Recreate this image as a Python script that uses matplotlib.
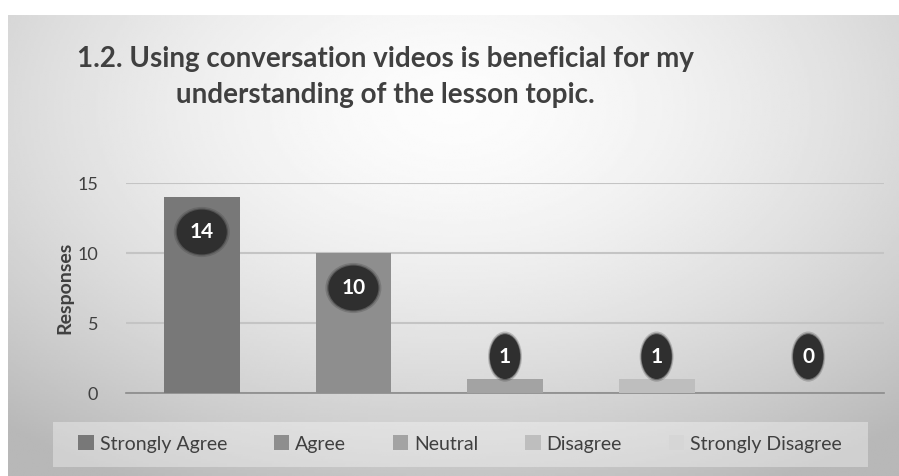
import numpy as np
import matplotlib.pyplot as plt
from matplotlib.patches import Rectangle, Patch, Ellipse

categories = ["Strongly Agree", "Agree", "Neutral", "Disagree", "Strongly Disagree"]
responses = [14, 10, 1, 1, 0]
bar_colors = ["#787878", "#8e8e8e", "#a3a3a3", "#bebebe", "#d6d6d6"]
yticks = [0, 5, 10, 15]
title = "1.2. Using conversation videos is beneficial for my\nunderstanding of the lesson topic."

W, H = 899, 476
FONT = "Lato"
fig = plt.figure(figsize=(W / 100, H / 100), dpi=100)
fig.patch.set_facecolor("white")

# gradient background of the chart area
bg = fig.add_axes([8 / W, 0, 1 - 8 / W, 1 - 15 / H])
yy, xx = np.mgrid[0:1:200j, 0:1:400j]
d = np.sqrt(((xx - 0.5) / 0.75) ** 2 + ((yy - 0.2) / 0.9) ** 2)
shade = np.clip(0.99 - 0.26 * d ** 1.6, 0.72, 1.0)
bg.imshow(shade, cmap="gray", vmin=0, vmax=1, aspect="auto", extent=[0, 1, 1, 0])
bg.set_axis_off()

# legend panel
fig.patches.append(Rectangle((53 / W, (H - 467) / H), 815 / W, 45 / H,
                             transform=fig.transFigure, facecolor="white",
                             alpha=0.35, edgecolor="none", zorder=1))

ax = fig.add_axes([126 / W, (H - 393) / H, (884 - 126) / W, (393 - 183) / H])
ax.patch.set_alpha(0)
x = np.arange(len(categories))
ax.bar(x, responses, width=0.5, color=bar_colors, zorder=3)
ax.set_xlim(-0.5, len(categories) - 0.5)
ax.set_ylim(0, 15)
ax.set_yticks(yticks)
ax.yaxis.grid(True, color="#c4c4c4", linewidth=1.5, zorder=0)
ax.set_xticks([])
for s in ["top", "right", "left"]:
    ax.spines[s].set_visible(False)
ax.spines["bottom"].set_color("#8a8a8a")
ax.spines["bottom"].set_linewidth(1.2)
ax.tick_params(axis="y", length=0, labelsize=13, colors="#404040", pad=20)
for t in ax.get_yticklabels():
    t.set_fontfamily(FONT)
ax.set_ylabel("Responses", fontsize=14, fontweight="bold", color="#404040",
              fontfamily=FONT, labelpad=3)

# data labels on dark soft ellipses
for xi, v in zip(x, responses):
    ypos = v - 2.5 if v > 4 else 2.6
    w = 0.33 if v >= 10 else 0.2
    for grow, a in [(1.12, 0.25), (1.05, 0.5)]:
        ax.add_patch(Ellipse((xi, ypos), w * grow, 3.2 * grow, facecolor="#3a3a3a",
                             edgecolor="none", alpha=a, zorder=4, clip_on=False))
    ax.add_patch(Ellipse((xi, ypos), w, 3.2, facecolor="#2f2f2f",
                         edgecolor="none", zorder=4, clip_on=False))
    ax.text(xi, ypos, str(v), ha="center", va="center", fontsize=15,
            fontweight="bold", color="white", fontfamily=FONT, zorder=5)

fig.text(385 / W, (H - 77) / H, title, ha="center", va="center", fontsize=20,
         fontweight="bold", color="#404040", fontfamily=FONT,
         linespacing=1.45)

handles = [Patch(facecolor=c, edgecolor="none") for c in bar_colors]
fig.legend(handles, categories, loc="center", bbox_to_anchor=(460 / W, (H - 444) / H),
           ncol=5, frameon=False, handlelength=0.8, handleheight=0.8,
           handletextpad=0.3, columnspacing=2.4, labelcolor="#404040",
           prop={"family": FONT, "size": 14})

fig.savefig("out.png", dpi=100)
